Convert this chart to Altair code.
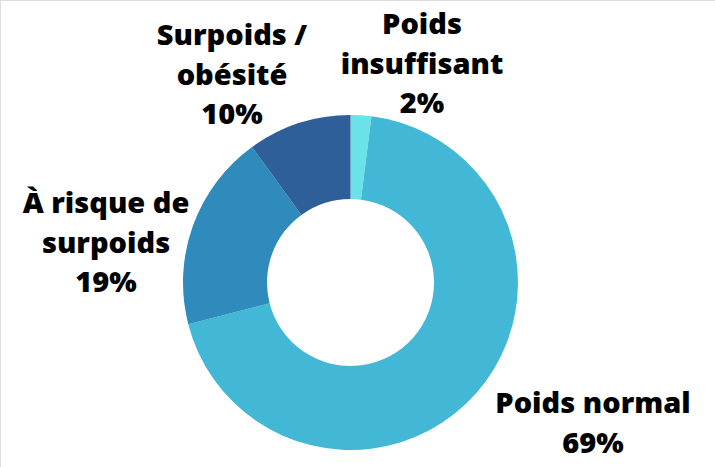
import altair as alt
import pandas as pd

categories = ["Poids insuffisant", "Poids normal", "À risque de surpoids", "Surpoids / obésité"]
label_lines = [
    ["Poids", "insuffisant"],
    ["Poids normal"],
    ["À risque de", "surpoids"],
    ["Surpoids /", "obésité"],
]
values = [2, 69, 19, 10]
colors = ["#6ae2e8", "#42b8d6", "#2e8bbb", "#2e5f98"]

df = pd.DataFrame({
    "category": categories,
    "value": values,
    "order": list(range(len(categories))),
    "label": ["\n".join(l + [f"{v}%"]) for l, v in zip(label_lines, values)],
})

W, H = 715, 467
CX, CY = 350.5, 282.5

arcs = alt.Chart(df).mark_arc(stroke=None).encode(
    theta=alt.Theta("value:Q", stack=True),
    order=alt.Order("order:Q"),
    color=alt.Color("category:N", scale=alt.Scale(domain=categories, range=colors), legend=None),
    x=alt.value(CX),
    y=alt.value(CY),
    radius=alt.value(167.5),
    radius2=alt.value(83.5),
)

# label anchor points (layout: centre x, first-line y)
label_pos = {
    "Poids insuffisant": (422, 25),
    "Poids normal": (593, 404),
    "À risque de surpoids": (106, 204),
    "Surpoids / obésité": (232, 36),
}

layers = [arcs]
for cat, (lx, ly) in label_pos.items():
    layers.append(
        alt.Chart(df).transform_filter(alt.datum.category == cat).mark_text(
            font="Open Sans", fontWeight=900, fontSize=29, color="#000000",
            align="center", baseline="middle", lineBreak="\n", lineHeight=39.5,
        ).encode(
            text="label:N",
            x=alt.value(lx),
            y=alt.value(ly),
        )
    )

chart = alt.layer(*layers).properties(
    width=W, height=H, padding=0, autosize=alt.AutoSizeParams(type="none")
).configure_view(stroke=None).configure(background="#ffffff")

chart.save("out.html", embed_options={"renderer": "svg", "actions": False})
